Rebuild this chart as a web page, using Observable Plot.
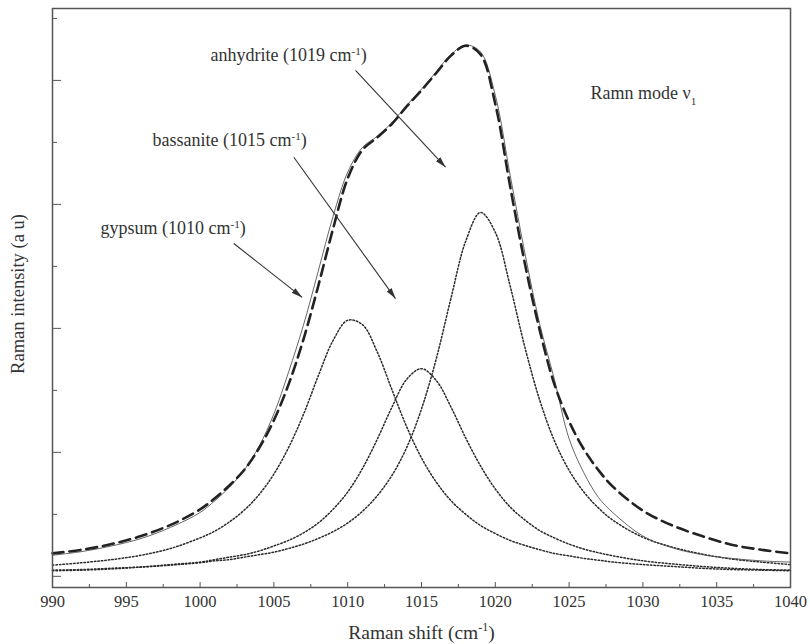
<!DOCTYPE html>
<html><head><meta charset="utf-8">
<script src="https://cdn.jsdelivr.net/npm/d3@7"></script>
<script src="https://cdn.jsdelivr.net/npm/@observablehq/plot@0.6"></script>
<style>body{margin:0;background:#fff}</style>
</head><body><div id="chart"></div>
<script>
// Raman shift grid (cm-1)
const shift = [990,992,994,996,998,1000,1001,1002,1003,1004,1005,1006,1007,1008,1009,1010,1011,1012,1013,1014,1015,1016,1017,1018,1019,1020,1021,1022,1023,1024,1025,1026,1027,1028,1030,1032,1034,1036,1038,1040];
// component bands (dotted)
const gypsum = [1.18,1.22,1.27,1.34,1.45,1.62,1.73,1.88,2.07,2.32,2.65,3.08,3.61,4.23,4.80,5.13,5.06,4.62,4.01,3.41,2.91,2.52,2.22,2.00,1.82,1.69,1.58,1.50,1.43,1.37,1.33,1.29,1.26,1.23,1.19,1.16,1.13,1.11,1.10,1.09];
const bassanite = [1.09,1.10,1.12,1.15,1.19,1.23,1.27,1.31,1.35,1.41,1.49,1.58,1.70,1.86,2.08,2.36,2.74,3.21,3.73,4.18,4.35,4.16,3.73,3.23,2.78,2.41,2.12,1.91,1.74,1.62,1.52,1.44,1.38,1.33,1.25,1.20,1.16,1.13,1.11,1.10];
const anhydrite = [1.10,1.11,1.13,1.15,1.18,1.22,1.25,1.27,1.31,1.35,1.39,1.45,1.52,1.61,1.72,1.86,2.05,2.30,2.63,3.08,3.70,4.51,5.49,6.41,6.87,6.55,5.69,4.70,3.85,3.19,2.71,2.36,2.10,1.90,1.63,1.47,1.36,1.28,1.23,1.19];
// fitted envelope (dashed) and measured spectrum (solid)
const fitted = [1.37,1.43,1.52,1.65,1.83,2.08,2.26,2.47,2.72,3.07,3.52,4.10,4.82,5.68,6.60,7.42,7.88,8.08,8.30,8.58,8.84,9.12,9.40,9.56,9.42,8.62,7.30,6.05,4.98,4.10,3.50,3.05,2.71,2.44,2.06,1.82,1.65,1.51,1.43,1.37];
const measured = [1.34,1.40,1.49,1.61,1.79,2.03,2.22,2.44,2.72,3.10,3.62,4.30,5.05,5.92,6.80,7.52,7.92,8.10,8.32,8.60,8.86,9.14,9.42,9.57,9.46,8.76,7.48,6.22,5.08,4.18,3.22,2.67,2.27,2.02,1.65,1.46,1.35,1.29,1.25,1.23];

// ticks
const xMajor = [990,995,1000,1005,1010,1015,1020,1025,1030,1035,1040];
const xMinor = [992.5,997.5,1002.5,1007.5,1012.5,1017.5,1022.5,1027.5,1032.5,1037.5];
const yMajor = [1,3,5,7,9];
const yMinor = [2,4,6,8,10];

// annotations
const labelText = ["anhydrite (1019 cm⁻¹)", "bassanite (1015 cm⁻¹)", "gypsum (1010 cm⁻¹)", "Ramn mode ν₁"];
const labelX = [1000.70, 996.78, 993.25, 1026.45];
const labelY = [9.40, 8.03, 6.61, 8.79];
const arrowX1 = [1010.53, 1006.35, 1002.28];
const arrowY1 = [9.16, 7.76, 6.37];
const arrowX2 = [1016.63, 1013.24, 1006.92];
const arrowY2 = [7.60, 5.48, 5.50];

const xLabel = "Raman shift (cm⁻¹)";
const yLabel = "Raman intensity (a u)";

const series = vals => shift.map((x, i) => ({x, y: vals[i]}));
const labels = labelText.map((t, i) => ({t, x: labelX[i], y: labelY[i]}));
const arrows = arrowX1.map((_, i) => ({x1: arrowX1[i], y1: arrowY1[i], x2: arrowX2[i], y2: arrowY2[i]}));

const ink = "#333";
const serif = "'Liberation Serif', 'Times New Roman', serif";
const dotted = {x: "x", y: "y", curve: "catmull-rom", stroke: "#2a2a2a", strokeWidth: 1.5, strokeDasharray: "1.5 2"};

const chart = Plot.plot({
  width: 810, height: 644,
  marginLeft: 52, marginRight: 20, marginTop: 8, marginBottom: 57,
  x: {domain: [990, 1040]},
  y: {domain: [0.82, 10.16]},
  style: {fontFamily: serif, fontSize: "17px", color: ink, background: "#fff"},
  marks: [
    Plot.line(series(gypsum), dotted),
    Plot.line(series(bassanite), dotted),
    Plot.line(series(anhydrite), dotted),
    Plot.line(series(measured), {x: "x", y: "y", curve: "catmull-rom", stroke: "#555", strokeWidth: 0.9}),
    Plot.line(series(fitted), {x: "x", y: "y", curve: "catmull-rom", stroke: "#222", strokeWidth: 2.6, strokeDasharray: "11 6"}),
    Plot.link(arrows, {x1: "x1", y1: "y1", x2: "x2", y2: "y2", stroke: ink, strokeWidth: 1.1}),
    Plot.text(labels, {x: "x", y: "y", text: "t", textAnchor: "start", lineAnchor: "middle", fontSize: 18, fill: ink}),
    Plot.axisX(xMajor, {tickSize: -5, fill: "none", stroke: "#555", label: null}),
    Plot.axisX(xMinor, {tickSize: -3, fill: "none", stroke: "#555", label: null}),
    Plot.axisX(xMajor, {tickSize: 0, tickPadding: 8, fontSize: 16.5, fill: ink, label: null, tickFormat: d => String(d)}),
    Plot.axisY(yMajor, {tickSize: -9, fill: "none", stroke: "#555", label: null}),
    Plot.axisY(yMinor, {tickSize: -5, fill: "none", stroke: "#555", label: null}),
    Plot.text([xLabel], {frameAnchor: "bottom", textAnchor: "middle", dy: 45, lineAnchor: "middle", fontSize: 19.5, fill: ink}),
    Plot.text([yLabel], {frameAnchor: "left", textAnchor: "middle", dx: -34, dy: -4, rotate: -90, lineAnchor: "middle", fontSize: 18.5, fill: ink}),
    Plot.frame({stroke: "#555", strokeWidth: 1.5})
  ]
});

// render superscripts / subscripts as real shifted text
function enrich(el) {
  const s = el.textContent;
  if (!/[⁻¹₁]/.test(s)) return;
  const fs = parseFloat(getComputedStyle(el).fontSize) || 16;
  const parts = s.split(/(⁻¹|₁)/).filter(p => p !== "");
  while (el.firstChild) el.removeChild(el.firstChild);
  let shiftPending = 0;
  const NS = "http://www.w3.org/2000/svg";
  for (const p of parts) {
    const ts = document.createElementNS(NS, "tspan");
    if (p === "⁻¹" || p === "₁") {
      const d = p === "⁻¹" ? -0.38 * fs : 0.3 * fs;
      ts.textContent = p === "⁻¹" ? "-1" : "1";
      ts.setAttribute("font-size", (0.62 * fs).toFixed(1));
      ts.setAttribute("dy", (d + shiftPending).toFixed(1));
      shiftPending = -d;
    } else {
      ts.textContent = p;
      if (shiftPending) ts.setAttribute("dy", shiftPending.toFixed(1));
      shiftPending = 0;
    }
    el.appendChild(ts);
  }
}
document.getElementById("chart").appendChild(chart);
chart.querySelectorAll("text").forEach(t => {
  const tspans = t.querySelectorAll("tspan");
  if (tspans.length) tspans.forEach(enrich); else enrich(t);
});

// filled arrowheads on the annotation links
const NS = "http://www.w3.org/2000/svg";
const defs = document.createElementNS(NS, "defs");
const marker = document.createElementNS(NS, "marker");
marker.setAttribute("id", "filled-arrow");
marker.setAttribute("viewBox", "0 0 11 6");
marker.setAttribute("refX", "11");
marker.setAttribute("refY", "3");
marker.setAttribute("markerWidth", "11");
marker.setAttribute("markerHeight", "6");
marker.setAttribute("markerUnits", "userSpaceOnUse");
marker.setAttribute("orient", "auto");
const head = document.createElementNS(NS, "path");
head.setAttribute("d", "M0,0L11,3L0,6Z");
head.setAttribute("fill", ink);
marker.appendChild(head);
defs.appendChild(marker);
chart.insertBefore(defs, chart.firstChild);
chart.querySelectorAll('g[aria-label="link"] path, g[aria-label="link"] line').forEach(p => p.setAttribute("marker-end", "url(#filled-arrow)"));
</script>
</body></html>
